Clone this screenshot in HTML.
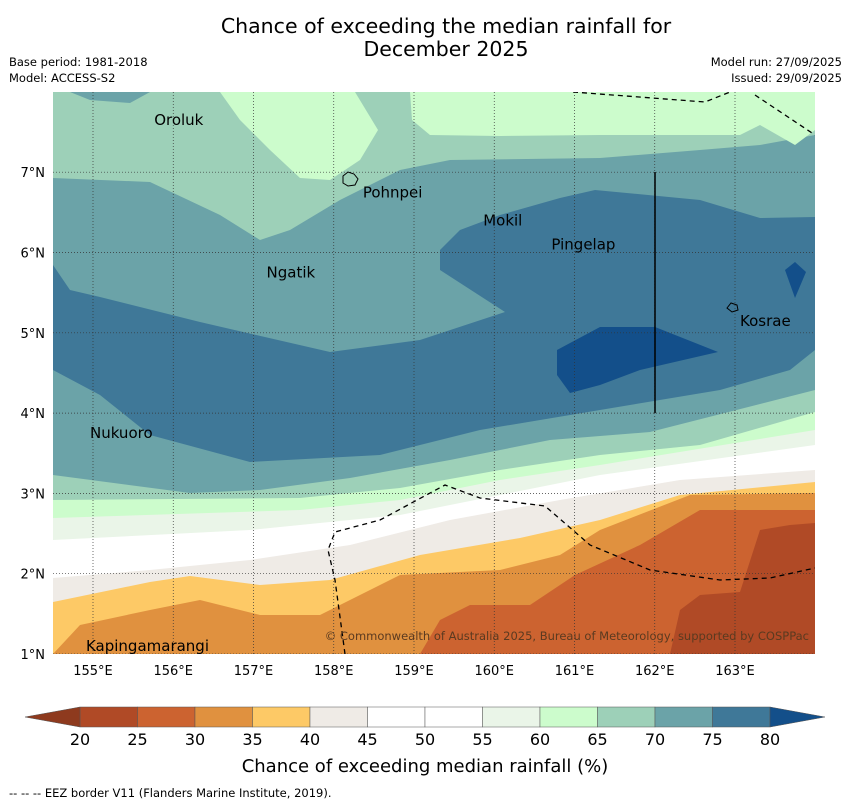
<!DOCTYPE html>
<html><head><meta charset="utf-8"><style>
body{margin:0;background:#fff;font-family:"DejaVu Sans",sans-serif}
</style></head><body>
<svg width="850" height="804" xmlns="http://www.w3.org/2000/svg" font-family="DejaVu Sans, sans-serif">
<text x="446" y="33" font-size="20.5" text-anchor="middle">Chance of exceeding the median rainfall for</text>
<text x="446" y="56" font-size="20.5" text-anchor="middle">December 2025</text>
<text x="9" y="66" font-size="11.5">Base period: 1981-2018</text>
<text x="9" y="82" font-size="11.5">Model: ACCESS-S2</text>
<text x="842" y="66" font-size="11.5" text-anchor="end">Model run: 27/09/2025</text>
<text x="842" y="82" font-size="11.5" text-anchor="end">Issued: 29/09/2025</text>
<defs><clipPath id="mc"><rect x="53" y="92" width="762" height="562"/></clipPath></defs>
<g id="map" clip-path="url(#mc)"></g>
<g id="cbar"></g>
<text x="425" y="772" font-size="18" text-anchor="middle">Chance of exceeding median rainfall (%)</text>
<text x="9" y="797" font-size="11.5">--  --  -- EEZ border V11 (Flanders Marine Institute, 2019).</text>
</svg>
<script>
const levels=[20,25,30,35,40,45,50,55,60,65,70,75,80];
const colors=["#b04a26","#cc6330","#e0913f","#fdc966","#efebe6","#ffffff","#ffffff","#eaf5e8","#ccfccc","#9dd0b8","#6ba3a8","#3f7898"];
const lowColor="#8e3a1e", highColor="#134f8a";
const lonTicks=[155,156,157,158,159,160,161,162,163];
const latTicks=[1,2,3,4,5,6,7];
const islands=[["Oroluk",155.75,7.65],["Pohnpei",158.35,6.75],["Mokil",159.85,6.4],["Pingelap",160.7,6.1],["Ngatik",157.15,5.75],["Kosrae",163.05,5.15],["Nukuoro",154.95,3.75],["Kapingamarangi",154.9,1.1]];
const X=lon=>93+(lon-155)*80.25, Y=lat=>654-(lat-1)*80.3;
const NS="http://www.w3.org/2000/svg";
const map=document.getElementById('map');
function mk(tag,a,p){const e=document.createElementNS(NS,tag);for(const k in a)e.setAttribute(k,a[k]);(p||map).appendChild(e);return e;}
function below(pts){return pts.map(p=>p.join(',')).join(' ')+' 815,654 53,654';}
const bands=[
["#9dd0b8",null],
["#6ba3a8",[[53,178],[150,182],[220,215],[260,240],[290,230],[340,200],[400,170],[450,160],[600,158],[700,150],[760,145],[815,135]]],
["#3f7898",[[53,265],[70,290],[100,297],[200,322],[330,352],[420,340],[505,312],[440,270],[440,250],[460,230],[500,215],[560,198],[595,190],[700,200],[760,218],[815,217]]],
["#6ba3a8",[[53,370],[100,395],[150,435],[250,462],[380,455],[480,430],[600,410],[720,390],[790,370],[815,350]]],
["#9dd0b8",[[53,475],[190,493],[260,490],[350,478],[450,460],[550,440],[650,432],[815,390]]],
["#ccfccc",[[53,500],[300,498],[400,488],[500,470],[600,455],[700,445],[815,412]]],
["#eaf5e8",[[53,518],[300,510],[400,500],[500,480],[600,465],[815,430]]],
["#ffffff",[[53,540],[250,530],[400,515],[500,495],[600,475],[815,445]]],
["#efebe6",[[53,578],[150,570],[250,560],[350,545],[450,520],[560,500],[680,480],[815,470]]],
["#fdc966",[[53,602],[150,582],[190,576],[260,585],[330,580],[420,555],[520,538],[600,520],[680,495],[815,482]]],
["#e0913f",[[53,654],[80,625],[150,610],[200,600],[260,615],[320,615],[400,575],[500,570],[560,555],[600,530],[690,495],[815,493]]],
["#cc6330",[[53,654],[420,654],[440,620],[470,605],[530,605],[575,575],[640,545],[700,510],[815,510]]]
];
bands.forEach((b,i)=>{
 const e=b[1]?mk('polygon',{points:below(b[1]),fill:b[0]}):mk('rect',{x:53,y:92,width:762,height:562,fill:b[0]});
 
 
});
const extra=[
["#b04a26","670,654 680,610 700,595 740,592 760,530 790,525 815,523 815,654"],
["#ccfccc","220,92 355,92 378,130 360,160 330,180 300,178 270,150 240,120"],
["#ccfccc","410,92 815,92 815,130 795,145 760,125 740,135 700,135 600,135 500,136 430,135 412,120"],
["#6ba3a8","70,92 150,92 130,103 90,100"],
["#134f8a","557,350 600,327 655,327 718,352 640,370 600,385 570,393 557,375"],
["#134f8a","785,270 795,262 806,272 795,298"]
];
extra.forEach((b,i)=>{const e=mk('polygon',{points:b[1],fill:b[0]});
 
 });
lonTicks.forEach(l=>{const e=mk('line',{x1:X(l),x2:X(l),y1:92,y2:654,stroke:'#333','stroke-width':0.7,'stroke-dasharray':'1,2'});
 });
latTicks.forEach(l=>{const e=mk('line',{x1:53,x2:815,y1:Y(l),y2:Y(l),stroke:'#333','stroke-width':0.7,'stroke-dasharray':'1,2'});
 });
[["573,92 705,102 730,92"],["755,95 815,135"],["345,654 335,580 328,550 335,532 380,520 445,485 480,498 545,506 590,545 650,570 720,580 770,578 815,568"]].forEach(p=>{
 const e=mk('polyline',{points:p[0],fill:'none',stroke:'#000','stroke-width':1.3,'stroke-dasharray':'5,4'});
 });
const bl=mk('line',{x1:655,x2:655,y1:172,y2:413,stroke:'#000','stroke-width':1.5});

const svg=document.querySelector('svg');
islands.forEach(s=>{const t=mk('text',{x:X(s[1])+1,y:Y(s[2])+5,'font-size':15},svg);t.textContent=s[0];
 });
const pk=mk('path',{d:'M343,176 l5,-4 6,2 4,5 -3,6 -7,1 -5,-3z',fill:'none',stroke:'#000','stroke-width':1},svg);

const ko=mk('path',{d:'M727,308 l4,-5 6,2 1,5 -6,2z',fill:'none',stroke:'#000','stroke-width':1},svg);

const cp=mk('text',{x:809,y:640,'font-size':11.5,'text-anchor':'end',fill:'#5a3a20'},svg);cp.textContent='© Commonwealth of Australia 2025, Bureau of Meteorology, supported by COSPPac';

lonTicks.forEach(l=>{const t=mk('text',{x:X(l),y:675,'font-size':13,'text-anchor':'middle'},svg);t.textContent=l+'°E';
 });
latTicks.forEach(l=>{const t=mk('text',{x:45,y:Y(l)+5,'font-size':13,'text-anchor':'end'},svg);t.textContent=l+'°N';
 });
const cb=document.getElementById('cbar');
const cx0=80,cx1=770,cy=707,ch=20,sw=(cx1-cx0)/colors.length;
colors.forEach((c,i)=>{const r=mk('rect',{x:cx0+i*sw,y:cy,width:sw,height:ch,fill:c,stroke:'#555','stroke-width':0.5},cb);
 });
const lt=mk('polygon',{points:`${cx0},${cy} 25,${cy+ch/2} ${cx0},${cy+ch}`,fill:lowColor,stroke:'#555','stroke-width':0.5},cb);

const rt=mk('polygon',{points:`${cx1},${cy} 825,${cy+ch/2} ${cx1},${cy+ch}`,fill:highColor,stroke:'#555','stroke-width':0.5},cb);

levels.forEach((v,i)=>{const t=mk('text',{x:cx0+i*sw,y:745,'font-size':16,'text-anchor':'middle'},cb);t.textContent=v;
 });
</script>
</body></html>
